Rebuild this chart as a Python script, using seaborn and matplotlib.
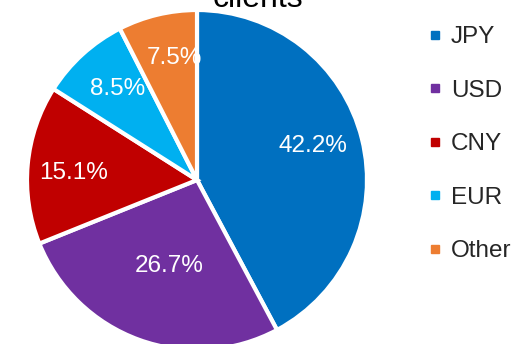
import matplotlib
matplotlib.use("Agg")
import matplotlib.pyplot as plt
from matplotlib.lines import Line2D
import numpy as np
import seaborn as sns

currencies = ["JPY", "USD", "CNY", "EUR", "Other"]
shares = [42.2, 26.7, 15.1, 8.5, 7.5]
colors = ["#0070C0", "#7030A0", "#C00000", "#00B0F0", "#ED7D31"]
title_text = "clients"

# radial placement of each percentage label (fraction of the radius)
label_radius = [0.71, 0.53, 0.73, 0.71, 0.73]
# small angular nudges of the labels, degrees
label_shift = [2.5, 2.0, 2.0, -1.0, -3.0]

sns.set_style("white")
plt.rcParams["font.family"] = ["Liberation Sans", "DejaVu Sans"]
palette = sns.color_palette(colors)

fig = plt.figure(figsize=(5.18, 3.44), dpi=100)
ax = fig.add_axes([27 / 518, -6 / 344, 340 / 518, 340 / 344])

wedges, texts, autotexts = ax.pie(
    shares,
    colors=palette,
    startangle=90,
    counterclock=False,
    autopct="%.1f%%",
    pctdistance=0.7,
    wedgeprops=dict(edgecolor="white", linewidth=3),
    textprops=dict(color="white", fontsize=17.5),
)
for w, t, r, s in zip(wedges, autotexts, label_radius, label_shift):
    mid = np.deg2rad((w.theta1 + w.theta2) / 2 + s)
    t.set_position((r * np.cos(mid), r * np.sin(mid)))

ax.set_xlim(-1, 1)
ax.set_ylim(-1, 1)
ax.set_aspect("equal")
ax.axis("off")

fig.text(258 / 518, 1 - 7 / 344, title_text, ha="center", va="baseline",
         fontsize=23, color="#000000")

handles = [Line2D([0], [0], marker="s", linestyle="none", markersize=6,
                  markerfacecolor=c, markeredgecolor=c) for c in palette]
fig.legend(handles, currencies, loc="upper left",
           bbox_to_anchor=(428 / 518, 1 - 26 / 344), frameon=False,
           fontsize=17.5, handlelength=0.6, handletextpad=0.35,
           labelspacing=1.3, borderaxespad=0, borderpad=0)

fig.savefig("out.png", dpi=100)
